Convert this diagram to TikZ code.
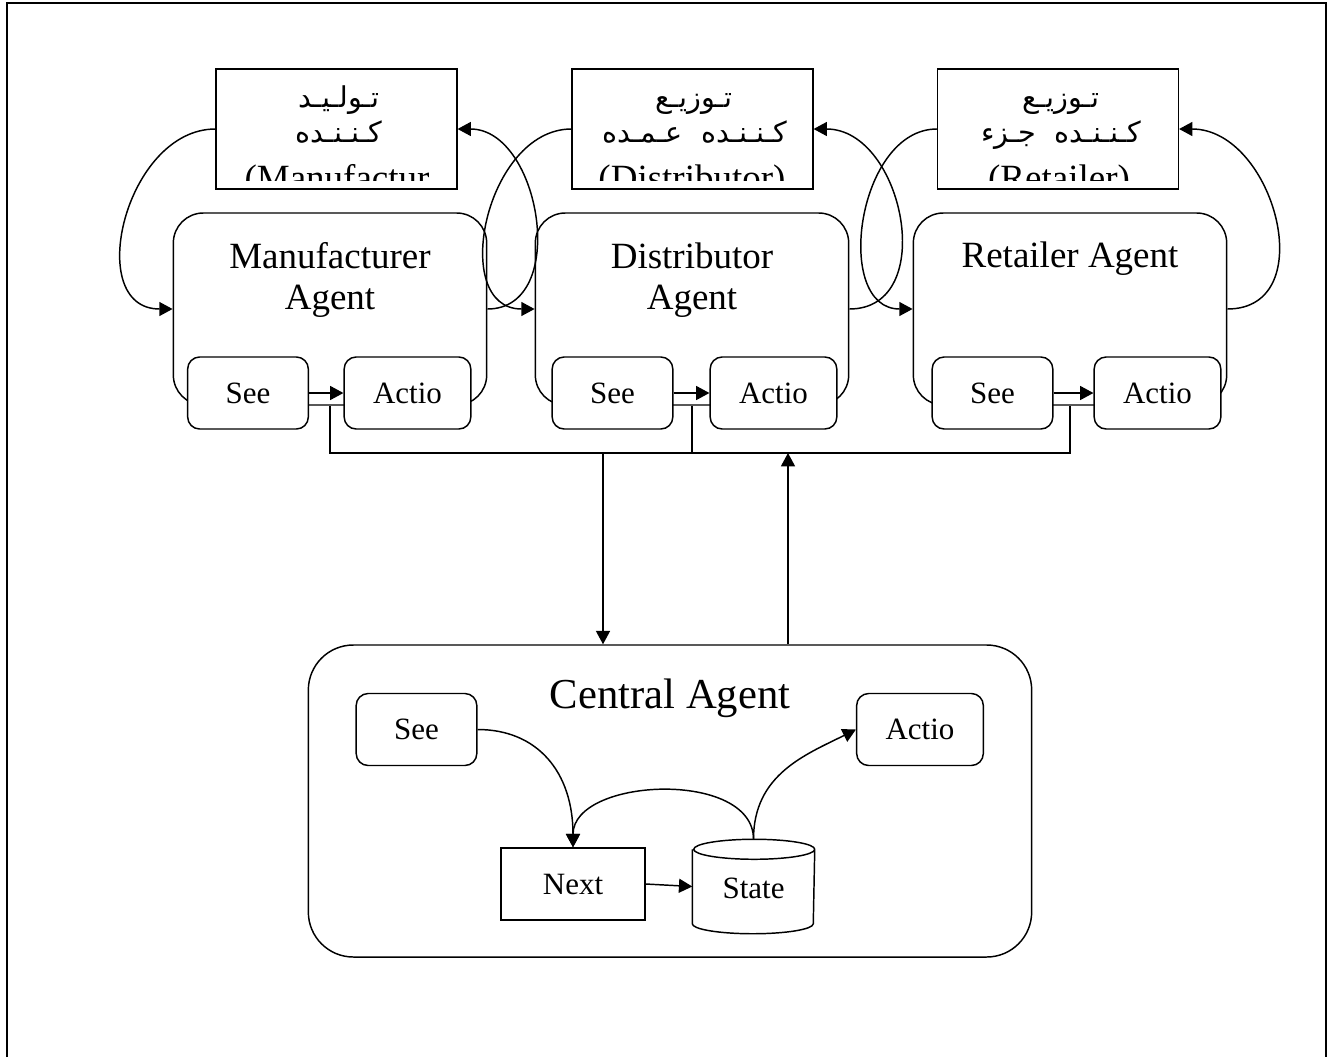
\documentclass[tikz,border=0pt]{standalone}
\usepackage{fontspec}
\setmainfont{Liberation Serif}
\newfontfamily\arabicfont[Script=Arabic]{DejaVu Sans}
\TeXXeTstate=1
\usetikzlibrary{arrows.meta}
\begin{document}
\begin{tikzpicture}[x=0.75pt,y=-0.75pt,line width=1.1pt,
  arr/.style={-{Triangle[length=10pt,width=10.5pt]}},
  box/.style={draw,fill=white,inner sep=0pt},
  topbox/.style={box,minimum width=180.5pt,minimum height=90pt},
  agentbox/.style={box,rounded corners=22.5pt,minimum width=235pt,minimum height=144pt},
  smallbox/.style={box,rounded corners=9pt,minimum height=54pt,font=\fontsize{23.25}{28}\selectfont},
  seebox/.style={smallbox,minimum width=90.5pt},
  actbox/.style={smallbox,minimum width=95pt},
  agentlabel/.style={inner sep=0pt,align=center,font=\fontsize{27.75}{30.75}\selectfont},
  artext/.style={inner sep=0pt,anchor=base,font=\arabicfont\fontsize{21.5}{26}\selectfont},
  lattext/.style={inner sep=0pt,anchor=base,font=\fontsize{27.75}{30}\selectfont}]
\useasboundingbox (0,0) rectangle (1327,1057);
% outer frame
\draw[line width=1.3pt] (7,1057) -- (7,3) -- (1326,3) -- (1326,1057);

% top boxes
\node[topbox] (mtop) at (336.5,129) {};
\node[topbox] (dtop) at (692.5,129) {};
\node[topbox] (rtop) at (1058,129) {};
\begin{scope}
\clip (mtop.north west) rectangle ([yshift=6.75pt]mtop.south east);
\node[artext] (mt1) at (339,107) {\beginR تـولـیـد\endR};
\node[artext] (mt2) at (339,142) {\beginR کـنـنـده\endR};
\node[lattext] (mt3) at (337,190.5) {(Manufactur};
\end{scope}
\begin{scope}
\clip (dtop.north west) rectangle ([yshift=6.75pt]dtop.south east);
\node[artext] (dt1) at (694,107) {\beginR تـوزیـع\endR};
\node[artext] (dt2) at (695,142) {\beginR کـنـنـده\ \ عـمـده\endR};
\node[lattext] (dt3) at (692,190.5) {(Distributor)};
\end{scope}
\begin{scope}
\clip (rtop.north west) rectangle ([yshift=6.75pt]rtop.south east);
\node[artext] (rt1) at (1061,107) {\beginR تـوزیـع\endR};
\node[artext] (rt2) at (1061,142) {\beginR کـنـنـده\ \ جـزء\endR};
\node[lattext] (rt3) at (1059,190.5) {(Retailer)};
\end{scope}

% agent boxes
\node[agentbox] (magent) at (330,309) {};
\node[agentbox] (dagent) at (692,309) {};
\node[agentbox] (ragent) at (1070,309) {};
\node[agentlabel] (mlabel) at (330,280) {Manufacturer\\Agent};
\node[agentlabel] (dlabel) at (692,280) {Distributor\\Agent};
\node[agentlabel] (rlabel) at (1070,259) {Retailer Agent};

\node[seebox] (msee) at (248,393) {See};
\node[actbox] (mact) at (407.5,393) {Actio};
\node[seebox] (dsee) at (612.5,393) {See};
\node[actbox] (dact) at (773.5,393) {Actio};
\node[seebox] (rsee) at (992.5,393) {See};
\node[actbox] (ract) at (1157.5,393) {Actio};

\draw[arr] (msee.east) -- (mact.west);
\draw[arr] (dsee.east) -- (dact.west);
\draw[arr] (rsee.east) -- (ract.west);

% loops between top boxes and agents
\draw[arr] (mtop.west) .. controls +(-90,0) and +(-90,0) .. (magent.west);
\draw[arr] (dtop.west) .. controls +(-86,0) and +(-86,0) .. (dagent.west);
\draw[arr] (rtop.west) .. controls +(-80,0) and +(-80,0) .. (ragent.west);
\draw[arr] (magent.east) .. controls +(83,0) and +(83,0) .. (mtop.east);
\draw[arr] (dagent.east) .. controls +(90,0) and +(90,0) .. (dtop.east);
\draw[arr] (ragent.east) .. controls +(95,0) and +(95,0) .. (rtop.east);

% bus
\coordinate (busy) at (0,453);
\draw (magent.south) |- (ragent.south |- busy) -- (ragent.south);
\draw (dagent.south) -- (dagent.south |- busy);

% central agent
\node[box,rounded corners=33.75pt,minimum width=542.5pt,minimum height=234pt] (central) at (670,801) {};
\node[inner sep=0pt,font=\fontsize{32}{36}\selectfont] (clabel) at (670,698) {Central Agent};
\node[seebox] (csee) at (416.5,729.5) {See};
\node[actbox] (cact) at (920,729.5) {Actio};
\node[box,minimum width=108pt,minimum height=54pt,font=\fontsize{23.25}{28}\selectfont] (next) at (573,884) {Next};
\node[inner sep=0pt,minimum width=90.75pt,minimum height=69.75pt] (state) at (753.5,886.5) {};
\draw[fill=white] ([yshift=-7.5pt]state.north west) -- ([yshift=7.5pt]state.south west)
  arc[start angle=180,end angle=360,x radius=45.375pt,y radius=7.5pt]
  -- ([yshift=-7.5pt]state.north east)
  arc[start angle=0,end angle=360,x radius=45.375pt,y radius=7.5pt];
\node[inner sep=0pt,font=\fontsize{23.25}{28}\selectfont] (statelabel) at (753.5,888) {State};

\coordinate (dn) at (603,453);
\coordinate (up) at (788,453);
\draw[arr] (dn) -- (dn |- central.north);
\draw[arr] (central.north -| up) -- (up);

\draw[arr] (csee.east) .. controls +(60,0) and +(0,-75) .. (next.north);
\draw[arr] (state.north) .. controls +(0,-70) and +(0,-70) .. (next.north);
\draw[arr] (state.north) .. controls +(0,-65) and +(-50,25) .. (cact.west);
\draw[arr] (next.east) -- (state.west);
\end{tikzpicture}
\end{document}
